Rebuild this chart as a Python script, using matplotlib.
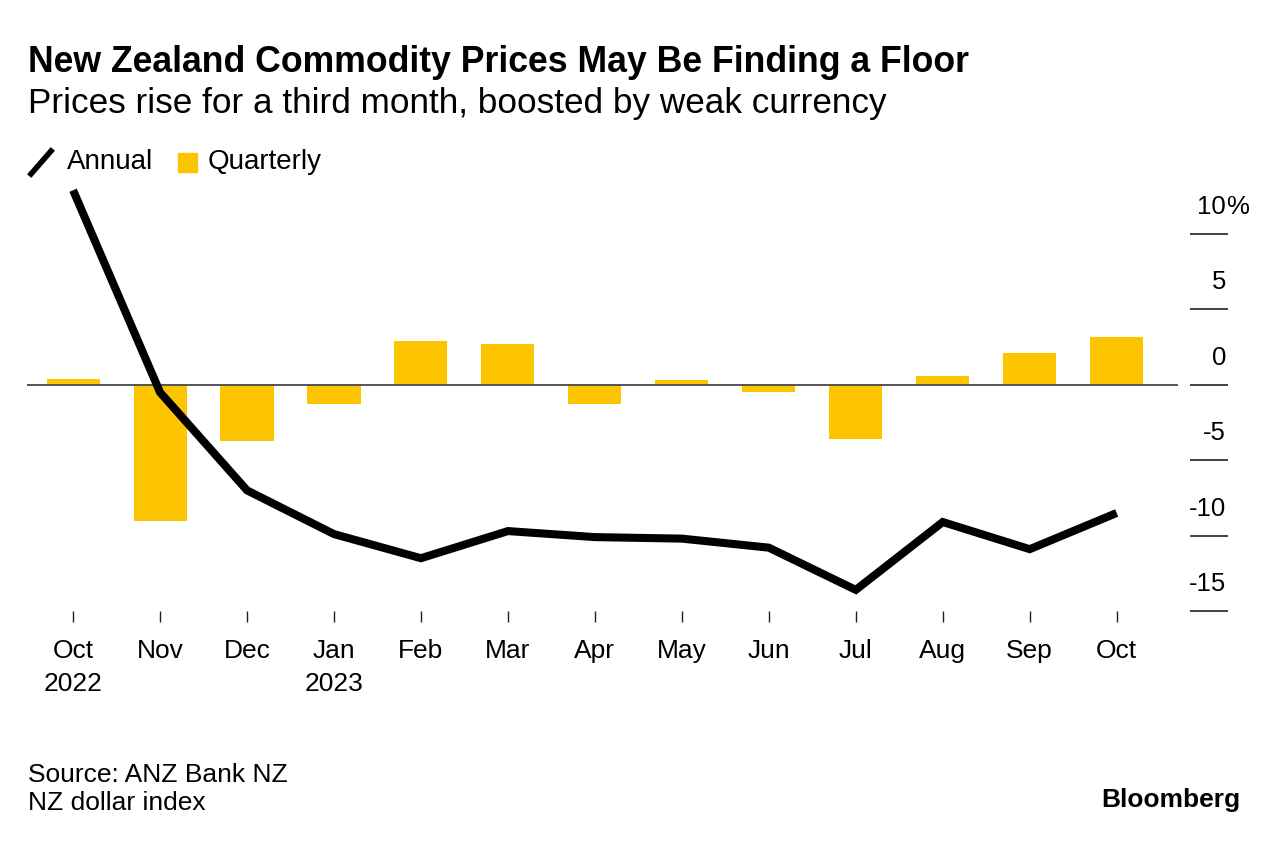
import matplotlib
matplotlib.use('Agg')
import matplotlib.pyplot as plt
from matplotlib.lines import Line2D
from matplotlib.patches import Rectangle
import matplotlib.transforms as mtransforms
import numpy as np

plt.rcParams['font.family'] = ['Liberation Sans', 'DejaVu Sans']

# data
months = ['Oct\n2022', 'Nov', 'Dec', 'Jan\n2023', 'Feb', 'Mar', 'Apr',
          'May', 'Jun', 'Jul', 'Aug', 'Sep', 'Oct']
quarterly = [0.4, -9.0, -3.7, -1.3, 2.9, 2.7, -1.3, 0.3, -0.5, -3.6, 0.6, 2.1, 3.2]
annual = [12.9, -0.5, -7.0, -9.9, -11.5, -9.7, -10.1, -10.2, -10.8, -13.6, -9.1, -10.9, -8.5]
yticks = [10, 5, 0, -5, -10, -15]

yellow = '#FDC400'

fig = plt.figure(figsize=(12.8, 8.44), dpi=100)
ax = fig.add_axes([27 / 1280, 1 - 611 / 844, 1201 / 1280, (611 - 185) / 844])

x = np.arange(len(months))
ax.bar(x, quarterly, width=0.61, color=yellow, zorder=2)
ax.axhline(0, xmin=0, xmax=(1177 - 27) / 1201, color='#555555', lw=1.4, zorder=3)
ax.plot(x, annual, color='black', lw=5.8, solid_joinstyle='miter', zorder=4,
        solid_capstyle='butt')

ax.set_xlim(-0.53, 13.28)
ax.set_ylim(-15, 13.25)

for s in ax.spines.values():
    s.set_visible(False)

ax.set_xticks(x)
ax.set_xticklabels(months, fontsize=19, linespacing=1.5)
ax.tick_params(axis='x', length=8, width=1, color='#222222', pad=12)

ax.yaxis.tick_right()
ax.set_yticks(yticks)
ax.set_yticklabels([])
ax.tick_params(axis='y', direction='in', length=27.5, width=1.2, color='#222222')

trans = mtransforms.blended_transform_factory(ax.transAxes, ax.transData)
for v in yticks:
    ax.annotate(str(v), xy=(1199 / 1201, v), xycoords=trans,
                xytext=(0, 19.5), textcoords='offset points',
                ha='right', va='center', fontsize=18.5)
    if v == 10:
        ax.annotate('%', xy=(1199 / 1201, v), xycoords=trans,
                    xytext=(0, 19.5), textcoords='offset points',
                    ha='left', va='center', fontsize=18.5)

# titles
fig.text(28 / 1280, 1 - 63 / 844, 'New Zealand Commodity Prices May Be Finding a Floor',
         fontsize=25.7, fontweight='bold', va='center', ha='left')
fig.text(28 / 1280, 1 - 104 / 844, 'Prices rise for a third month, boosted by weak currency',
         fontsize=25.3, va='center', ha='left')

# legend
fig.add_artist(Line2D([31 / 1280, 51 / 1280], [1 - 174 / 844, 1 - 151 / 844],
                      color='black', lw=4, transform=fig.transFigure))
fig.text(67 / 1280, 1 - 162 / 844, 'Annual', fontsize=20, va='center', ha='left')
fig.add_artist(Rectangle((178 / 1280, 1 - 172 / 844), 19 / 1280, 19 / 844,
                         color=yellow, transform=fig.transFigure))
fig.text(208 / 1280, 1 - 162 / 844, 'Quarterly', fontsize=20, va='center', ha='left')

# footer
fig.text(28 / 1280, 1 - 775 / 844, 'Source: ANZ Bank NZ', fontsize=19, va='center', ha='left')
fig.text(28 / 1280, 1 - 803 / 844, 'NZ dollar index', fontsize=19, va='center', ha='left')
fig.text(1240 / 1280, 1 - 800 / 844, 'Bloomberg', fontsize=19, fontweight='bold',
         va='center', ha='right')

fig.savefig('out.png', dpi=100)
plt.close(fig)
